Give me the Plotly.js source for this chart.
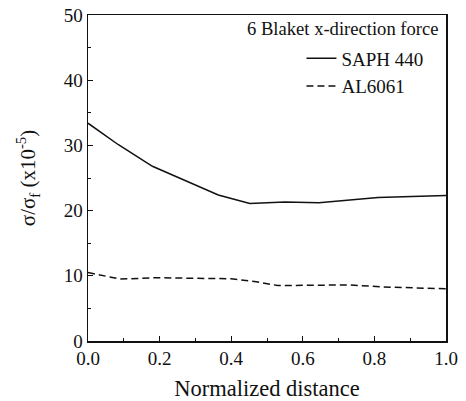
<!DOCTYPE html>
<html>
<head>
<meta charset="utf-8">
<script src="https://cdn.plot.ly/plotly-3.0.1.min.js"></script>
<style>html,body{margin:0;padding:0;background:#fff;}#chart{width:466px;height:401px;}</style>
</head>
<body>
<div id="chart"></div>
<script>
var saphX = [0, 0.085, 0.18, 0.364, 0.452, 0.55, 0.645, 0.81, 1.0];
var saphY = [33.4, 30.1, 26.8, 22.4, 21.1, 21.3, 21.2, 22.0, 22.3];
var alX = [0, 0.09, 0.19, 0.40, 0.47, 0.53, 0.73, 0.82, 1.0];
var alY = [10.5, 9.5, 9.7, 9.55, 9.1, 8.5, 8.6, 8.3, 8.0];
var seriesNames = ["SAPH 440", "AL6061"];
var xTicks = [0, 0.2, 0.4, 0.6, 0.8, 1.0];
var xTickText = ["0.0", "0.2", "0.4", "0.6", "0.8", "1.0"];
var yTicks = [0, 10, 20, 30, 40, 50];

var serif = "Liberation Serif, Times New Roman, serif";
var traces = [
  {x: saphX, y: saphY, name: seriesNames[0], mode: "lines", line: {color: "#111", width: 1.5, dash: "solid"}},
  {x: alX, y: alY, name: seriesNames[1], mode: "lines", line: {color: "#111", width: 1.5, dash: "7px,4px"}}
];
var layout = {
  width: 466, height: 401,
  margin: {l: 88, r: 20, t: 15, b: 60},
  paper_bgcolor: "#fff", plot_bgcolor: "#fff",
  font: {family: serif, color: "#111"},
  showlegend: true,
  legend: {x: 0.951, y: 0.925, xanchor: "right", yanchor: "top", font: {size: 19, family: serif}, bgcolor: "rgba(0,0,0,0)", tracegroupgap: 0, itemwidth: 30},
  xaxis: {
    range: [0, 1], tickvals: xTicks, ticktext: xTickText,
    ticks: "inside", ticklen: 5, tickwidth: 1, tickcolor: "#111",
    minor: {dtick: 0.1, ticks: "inside", ticklen: 3, tickcolor: "#111"},
    showline: true, linecolor: "#111", linewidth: 1.5, mirror: true,
    showgrid: false, zeroline: false,
    tickfont: {size: 19, family: serif},
    title: {text: "Normalized distance", font: {size: 22.5, family: serif}, standoff: 16}
  },
  yaxis: {
    range: [0, 50], tickvals: yTicks,
    ticks: "inside", ticklen: 5, tickwidth: 1, tickcolor: "#111",
    minor: {dtick: 5, ticks: "inside", ticklen: 3, tickcolor: "#111"},
    showline: true, linecolor: "#111", linewidth: 1.5, mirror: true,
    showgrid: false, zeroline: false,
    tickfont: {size: 19, family: serif},
    title: {text: "σ/σ<sub>f</sub> (x10<sup>-5</sup>)", font: {size: 21, family: serif}, standoff: 22}
  },
  annotations: [
    {text: "6 Blaket x-direction force", xref: "paper", yref: "paper", x: 0.985, y: 0.997, xanchor: "right", yanchor: "top", showarrow: false, font: {size: 18.6, family: serif}}
  ]
};
Plotly.newPlot("chart", traces, layout, {displayModeBar: false, staticPlot: true});
</script>
</body>
</html>
